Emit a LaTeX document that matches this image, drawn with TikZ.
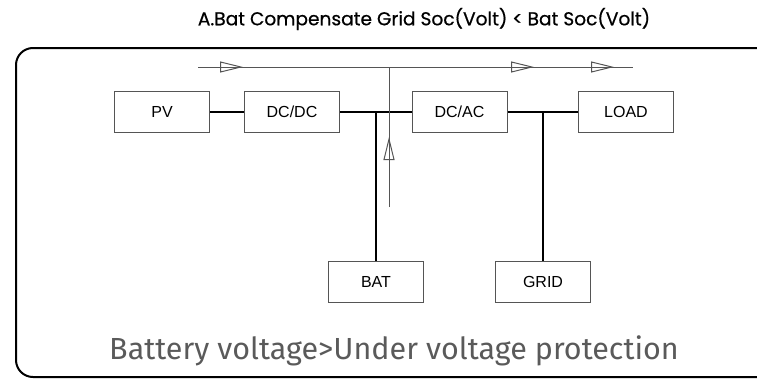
\documentclass[tikz,border=0pt]{standalone}
\usepackage{fontspec}
\setmainfont{Liberation Sans}
\newfontfamily\titlefont[FakeBold=0.6]{Poppins}
\newfontfamily\notefont{Fira Sans}
\usetikzlibrary{arrows.meta,decorations.markings}
\definecolor{boxline}{HTML}{555555}
\definecolor{notegray}{HTML}{5A5A5A}
\begin{document}
\begin{tikzpicture}[x=1pt, y=-1pt,
    unit/.style={draw=boxline, line width=1pt, minimum width=95pt, minimum height=41pt, inner sep=0pt, font=\fontsize{16}{18}\selectfont},
    bus/.style={line width=2pt},
    flowtip/.tip={Triangle[open, length=23pt, width=11pt, line width=1pt]},
    flow/.style={draw=boxline, line width=1pt}]
    \useasboundingbox (0,0) rectangle (757,378);

    \node (title) at (424,19) {\titlefont\fontsize{18.6}{20}\selectfont A.Bat Compensate Grid Soc(Volt) < Bat Soc(Volt)};

    % frame, open on the right
    \begin{scope}
        \clip (0,0) rectangle (757,378);
        \draw[line width=2pt, rounded corners=17pt] (800,48) -- (16,48) -- (16,377) -- (800,377);
    \end{scope}

    \node[unit] (PV) at (162,112) {PV};
    \node[unit] (DCDC) at (292,112) {DC/DC};
    \node[unit] (DCAC) at (459.5,112) {DC/AC};
    \node[unit] (LOAD) at (626,112) {LOAD};
    \node[unit] (BAT) at (376,282) {BAT};
    \node[unit] (GRID) at (543,282) {GRID};

    \coordinate (J1) at (376,112);
    \coordinate (J2) at (543,112);

    \draw[bus] (PV) -- (DCDC);
    \draw[bus] (DCDC) -- (DCAC);
    \draw[bus] (DCAC) -- (LOAD);
    \draw[bus] (J1) -- (BAT);
    \draw[bus] (J2) -- (GRID);

    % power flow
    \coordinate (F1) at (198,67);
    \coordinate (F2) at (633,67);
    \coordinate (F3) at (389,207);
    \coordinate (F4) at (389,67);
    \draw[flow, postaction={decorate}, decoration={markings,
        mark=at position 45pt with {\arrow{flowtip}},
        mark=at position 336pt with {\arrow{flowtip}},
        mark=at position 416pt with {\arrow{flowtip}}}] (F1) -- (F2);
    \draw[flow, postaction={decorate}, decoration={markings,
        mark=at position 70pt with {\arrow{flowtip}}}] (F3) -- (F4);

    \node[text=notegray] (note) at (394,351) {\notefont\fontsize{30.5}{34}\selectfont Battery voltage>Under voltage protection};
\end{tikzpicture}
\end{document}
